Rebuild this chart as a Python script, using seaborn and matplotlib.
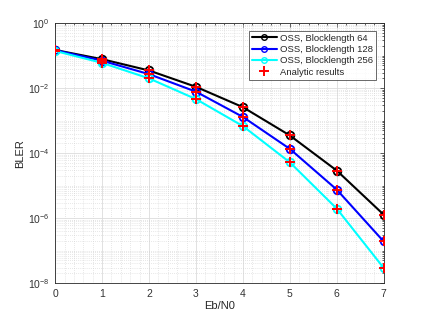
import numpy as np
import pandas as pd
import matplotlib
matplotlib.use("Agg")
import matplotlib.pyplot as plt
import seaborn as sns
from matplotlib.lines import Line2D
from matplotlib.ticker import LogLocator, MultipleLocator, NullFormatter

# valores
ebn0 = [0, 1, 2, 3, 4, 5, 6, 7]
bler_64 = [0.15, 0.078, 0.035, 0.011, 2.6e-3, 3.5e-4, 2.9e-5, 1.27e-6]
bler_128 = [0.148, 0.07, 0.027, 7.8e-3, 1.3e-3, 1.35e-4, 7.5e-6, 1.9e-7]
bler_256 = [0.14, 0.06, 0.02, 4.6e-3, 6.8e-4, 5.2e-5, 1.95e-6, 2.9e-8]
series_labels = ["OSS, Blocklength 64", "OSS, Blocklength 128", "OSS, Blocklength 256"]
series_colors = ["black", "blue", "cyan"]

df = pd.DataFrame({
    "Eb/N0": ebn0 * 3,
    "BLER": bler_64 + bler_128 + bler_256,
    "serie": [series_labels[0]] * 8 + [series_labels[1]] * 8 + [series_labels[2]] * 8,
})

sns.set_style("white")
plt.rcParams["font.family"] = ["Liberation Sans", "DejaVu Sans"]
plt.rcParams["mathtext.fontset"] = "custom"
plt.rcParams["mathtext.rm"] = "Liberation Sans"
plt.rcParams["mathtext.it"] = "Liberation Sans"

fig = plt.figure(figsize=(4.24, 3.18), dpi=100)
ax = fig.add_axes([0.13, 0.11, 0.775, 0.817])

sns.lineplot(data=df, x="Eb/N0", y="BLER", hue="serie", hue_order=series_labels,
             palette=series_colors, marker="o", markersize=5.5, markerfacecolor="none",
             markeredgewidth=1.3, linewidth=1.5, ax=ax, legend=False)
# bordas dos marcadores na cor de cada serie
for ln, c in zip(ax.lines, series_colors):
    ln.set_markeredgecolor(c)

# resultados analiticos (mesmos pontos)
sns.scatterplot(data=df, x="Eb/N0", y="BLER", marker="+", color="red", s=45,
                linewidth=1.4, ax=ax, zorder=5, legend=False)

ax.set_yscale("log")
ax.set_xlim(0, 7)
ax.set_ylim(1e-8, 1)
ax.yaxis.set_major_locator(LogLocator(base=100))
ax.yaxis.set_minor_locator(LogLocator(base=10, subs=np.arange(1, 10), numticks=50))
ax.yaxis.set_minor_formatter(NullFormatter())
ax.xaxis.set_major_locator(MultipleLocator(1))
ax.xaxis.set_minor_locator(MultipleLocator(0.2))

ax.grid(which="major", color="#dcdcdc", linewidth=0.6, linestyle="-")
ax.grid(which="minor", color="#d0d0d0", linewidth=0.5, linestyle=(0, (1, 2)))
ax.set_axisbelow(True)
ax.tick_params(which="both", direction="in", top=True, right=True, labelsize=7.5,
               color="#262626", labelcolor="#333333", pad=4)
ax.tick_params(which="major", length=3, width=0.5)
ax.tick_params(which="minor", length=1.5, width=0.5)
for s in ax.spines.values():
    s.set_color("#262626")
    s.set_linewidth(0.6)

ax.set_xlabel("Eb/N0", fontsize=8, color="#262626", labelpad=2)
ax.set_ylabel("BLER", fontsize=8, color="#262626", labelpad=2)

handles = [Line2D([], [], color=c, marker="o", markerfacecolor="none", markersize=4,
                  linewidth=1.5) for c in series_colors]
handles.append(Line2D([], [], color="red", marker="+", linestyle="none", markersize=7,
                      markeredgewidth=1.4))
leg = ax.legend(handles, series_labels + ["Analytic results"], loc="upper right",
                fontsize=6.8, frameon=True, fancybox=False, borderpad=0.3, labelspacing=0.25,
                handlelength=2.6, handletextpad=0.4, borderaxespad=0.8)
leg.get_frame().set_edgecolor("#262626")
leg.get_frame().set_linewidth(0.6)

fig.savefig("out.png", dpi=100)
